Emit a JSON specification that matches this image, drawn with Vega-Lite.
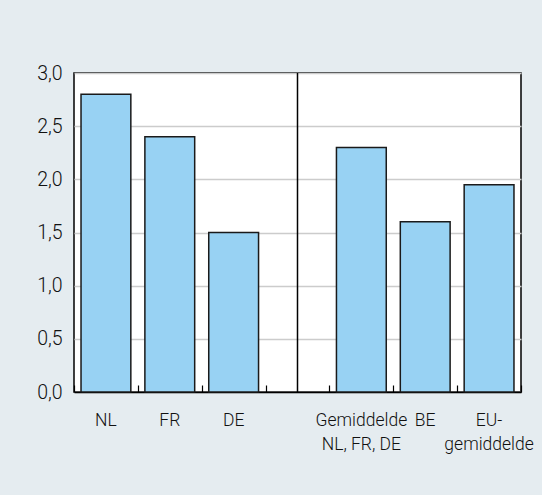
{
  "$schema": "https://vega.github.io/schema/vega-lite/v6.json",
  "autosize": "none",
  "width": 447,
  "height": 319,
  "padding": {"left": 74, "top": 73, "right": 21, "bottom": 103},
  "background": "#e5ecf0",
  "config": {
    "view": {"fill": "white", "stroke": "black", "strokeWidth": 1.5},
    "font": "Roboto"
  },
  "data": {
    "values": [
      {"cat": "NL", "value": 2.8},
      {"cat": "FR", "value": 2.4},
      {"cat": "DE", "value": 1.5},
      {"cat": "gap", "value": null},
      {"cat": "Gemiddelde|NL, FR, DE", "value": 2.3},
      {"cat": "BE", "value": 1.6},
      {"cat": "EU-|gemiddelde", "value": 1.95}
    ]
  },
  "resolve": {"axis": {"x": "independent"}},
  "layer": [
    {
      "mark": {"type": "bar", "width": {"band": 0.78}, "fill": "#98d2f3", "stroke": "#1a1a1a", "strokeWidth": 1.5},
      "encoding": {
        "x": {
          "field": "cat",
          "type": "nominal",
          "scale": {"domain": ["NL", "FR", "DE", "gap", "Gemiddelde|NL, FR, DE", "BE", "EU-|gemiddelde"], "paddingInner": 0, "paddingOuter": 0},
          "axis": {
            "orient": "bottom",
            "title": null,
            "labelAngle": 0,
            "labelExpr": "datum.label == 'gap' ? '' : split(datum.label, '|')",
            "labelFont": "Roboto",
            "labelFontWeight": 300,
            "labelFontSize": 17.5,
            "labelColor": "#111111",
            "labelLineHeight": 24,
            "labelPadding": 19,
            "ticks": false,
            "domainColor": "black",
            "domainWidth": 1.5,
            "grid": false
          }
        },
        "y": {
          "field": "value",
          "type": "quantitative",
          "scale": {"domain": [0, 3], "nice": false},
          "axis": {
            "title": null,
            "values": [0, 0.5, 1, 1.5, 2, 2.5, 3],
            "labelExpr": "replace(format(datum.value, '.1f'), '.', ',')",
            "labelFont": "Roboto",
            "labelFontWeight": 300,
            "labelFontSize": 19.5,
            "labelColor": "#111111",
            "labelPadding": 12,
            "ticks": false,
            "domain": false,
            "grid": true,
            "gridColor": "#cccccc",
            "gridWidth": 1.5
          }
        }
      }
    },
    {
      "transform": [{"filter": "datum.cat == 'gap'"}],
      "mark": {"type": "rule", "color": "black", "strokeWidth": 1.5},
      "encoding": {
        "x": {
          "field": "cat",
          "type": "nominal",
          "axis": {
            "orient": "bottom",
            "title": null,
            "labels": false,
            "domain": false,
            "grid": false,
            "offset": -7,
            "tickBand": "extent",
            "tickSize": 7,
            "tickColor": "black",
            "tickWidth": 1.2,
            "zindex": 1
          }
        }
      }
    }
  ]
}
